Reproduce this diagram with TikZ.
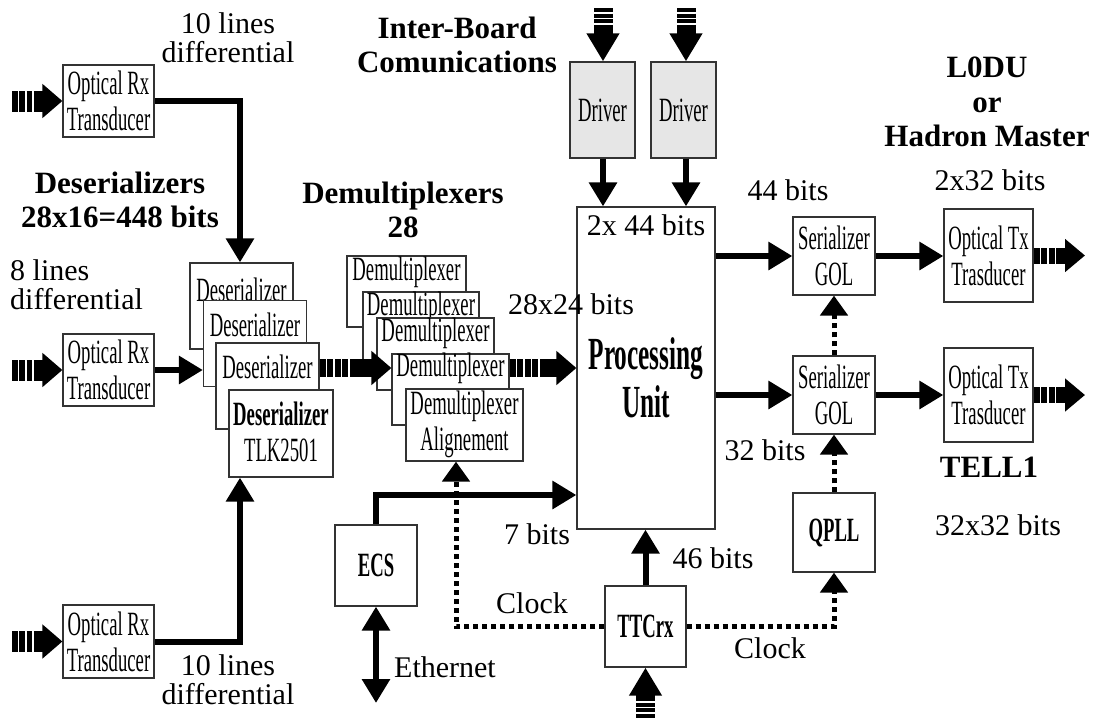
\documentclass[tikz,border=0pt]{standalone}
\usepackage{fontspec}
\setmainfont{Liberation Serif}
\newfontfamily\nar[FakeStretch=0.55]{Liberation Serif}
\usetikzlibrary{arrows.meta}
\definecolor{boxline}{HTML}{333333}
\definecolor{drvfill}{HTML}{E6E6E6}
\tikzset{
 box/.style={draw=boxline, line width=1.2pt, fill=white, inner sep=0pt},
 nt/.style={font=\nar\fontsize{34}{36}\selectfont, align=center, inner sep=0pt},
 ntb/.style={font=\nar\bfseries\fontsize{34}{36}\selectfont, align=center, inner sep=0pt},
 lbl/.style={font=\fontsize{30}{29}\selectfont, align=center, inner sep=0pt},
 blbl/.style={font=\bfseries\fontsize{31}{34.5}\selectfont, align=center, inner sep=0pt},
 conn/.style={line width=6pt, -{Triangle[length=24pt,width=27pt]}},
 bothconn/.style={line width=6pt, {Triangle[length=24pt,width=27pt]}-{Triangle[length=24pt,width=27pt]}},
 dots/.style={line width=5pt, dash pattern=on 5pt off 4pt, -{Triangle[length=20pt,width=27pt]}},
 instriped/.style={line width=21pt, dash pattern=on 5.5pt off 1.8pt on 5.5pt off 1.8pt on 5.5pt off 1.8pt on 400pt, -{Triangle[length=20pt,width=33pt]}},
 midstriped/.style={line width=18pt, dash pattern=on 6pt off 1.6pt on 6pt off 1.6pt on 6pt off 1.6pt on 6pt off 1.6pt on 400pt, -{Triangle[length=20pt,width=33pt]}},
 vstriped/.style={line width=19pt, dash pattern=on 4pt off 1.6pt on 4pt off 1.6pt on 4pt off 1.6pt on 400pt, -{Triangle[length=28pt,width=31pt]}},
 outstriped/.style={line width=16pt, dash pattern=on 6pt off 1.6pt on 6pt off 1.6pt on 6pt off 1.6pt on 400pt, -{Triangle[length=20pt,width=32pt]}},
}
\begin{document}
\begin{tikzpicture}[x=1pt,y=-1pt]
\useasboundingbox (0,0) rectangle (1096,718);

% Optical Rx transducers
\node[box, minimum width=91pt, minimum height=72pt] (rx1) at (108.5,101) {};
\node[nt] at (rx1.center) {Optical Rx\\Transducer};
\node[box, minimum width=91pt, minimum height=72pt] (rx2) at (108.5,370) {};
\node[nt] at (rx2.center) {Optical Rx\\Transducer};
\node[box, minimum width=91pt, minimum height=73pt] (rx3) at (108.5,641.5) {};
\node[nt] at (rx3.center) {Optical Rx\\Transducer};

% Deserializer stack
\node[box, minimum width=103pt, minimum height=86pt] (des1) at (241.5,306) {};
\node[nt] at (241.5,290) {Deserializer};
\node[box, minimum width=103pt, minimum height=86pt] (des2) at (255,343.5) {};
\node[nt] at (255,325) {Deserializer};
\node[box, minimum width=103pt, minimum height=86pt] (des3) at (267.5,386) {};
\node[nt] at (267.5,367) {Deserializer};
\node[box, minimum width=104pt, minimum height=87pt] (des4) at (281,433.5) {};
\node[nt] at (281,432) {\textbf{Deserializer}\\TLK2501};

% Demultiplexer stack
\node[box, minimum width=119pt, minimum height=71pt] (dm1) at (406.5,291.5) {};
\node[nt] at (406.5,272) {Demultiplexer};
\node[box, minimum width=116pt, minimum height=71pt] (dm2) at (421,327.5) {};
\node[nt] at (421,307) {Demultiplexer};
\node[box, minimum width=117pt, minimum height=72pt] (dm3) at (435.5,354) {};
\node[nt] at (435.5,333) {Demultiplexer};
\node[box, minimum width=117pt, minimum height=71pt] (dm4) at (450.5,389.5) {};
\node[nt] at (450.5,368) {Demultiplexer};
\node[box, minimum width=117pt, minimum height=72pt] (dm5) at (464.5,425) {};
\node[nt] at (464.5,424) {Demultiplexer\\Alignement};

% Processing unit
\node[box, minimum width=138pt, minimum height=322pt] (pu) at (646,368) {};
\node[lbl] at (646,225) {2x 44 bits};
\node[font=\nar\bfseries\fontsize{46}{48}\selectfont, align=center, inner sep=0pt] at (646,378) {Processing\\Unit};

% Drivers
\node[box, fill=drvfill, minimum width=65pt, minimum height=96pt] (drv1) at (602.5,110) {};
\node[nt] at (drv1.center) {Driver};
\node[box, fill=drvfill, minimum width=65pt, minimum height=96pt] (drv2) at (683.5,110) {};
\node[nt] at (drv2.center) {Driver};

% Serializers
\node[box, minimum width=82pt, minimum height=78pt] (ser1) at (834,256) {};
\node[nt] at (ser1.center) {Serializer\\GOL};
\node[box, minimum width=82pt, minimum height=78pt] (ser2) at (834,395) {};
\node[nt] at (ser2.center) {Serializer\\GOL};

% Optical Tx
\node[box, minimum width=89pt, minimum height=93pt] (tx1) at (988.5,255.5) {};
\node[nt] at (tx1.center) {Optical Tx\\Trasducer};
\node[box, minimum width=89pt, minimum height=94pt] (tx2) at (988.5,395) {};
\node[nt] at (tx2.center) {Optical Tx\\Trasducer};

% QPLL, ECS, TTCrx
\node[box, minimum width=82pt, minimum height=79pt] (qpll) at (834,532.5) {};
\node[ntb] at (qpll.center) {QPLL};
\node[box, minimum width=82pt, minimum height=81pt] (ecs) at (376,565.5) {};
\node[ntb] at (ecs.center) {ECS};
\node[box, minimum width=81pt, minimum height=81pt] (ttc) at (645.5,626.5) {};
\node[ntb] at (ttc.center) {TTCrx};

% helper coordinates
\coordinate (vx) at (240,0);
\coordinate (row) at (0,368);
\coordinate (s1) at (12,101);
\coordinate (s2) at (12,370);
\coordinate (s3) at (12,641.5);
\coordinate (t1) at (603,8);
\coordinate (t2) at (686,8);
\coordinate (o1) at (1085,255.5);
\coordinate (o2) at (1085,395);
\coordinate (b1) at (645.5,718);
\coordinate (ecsy) at (0,495);
\coordinate (eth) at (376,703);
\coordinate (clkL) at (456,0);

% connectors
\draw[instriped] (s1) -- (rx1.west);
\draw[instriped] (s2) -- (rx2.west);
\draw[instriped] (s3) -- (rx3.west);
\draw[conn] (rx1.east) -| (vx |- des1.north);
\draw[conn] (rx3.east) -| (vx |- des4.south);
\draw[conn] (rx2.east) -- (rx2.east -| des2.west);
\draw[midstriped] (des3.east |- row) -- (dm4.west |- row);
\draw[midstriped] (dm4.east |- row) -- (pu.west |- row);
\draw[vstriped] (t1) -- (t1 |- drv1.north);
\draw[vstriped] (t2) -- (t2 |- drv2.north);
\draw[conn] (t1 |- drv1.south) -- (t1 |- pu.north);
\draw[conn] (t2 |- drv2.south) -- (t2 |- pu.north);
\draw[conn] (pu.east |- ser1.west) -- (ser1.west);
\draw[conn] (pu.east |- ser2.west) -- (ser2.west);
\draw[conn] (ser1.east) -- (ser1.east -| tx1.west);
\draw[conn] (ser2.east) -- (ser2.east -| tx2.west);
\draw[outstriped] (tx1.east) -- (o1);
\draw[outstriped] (tx2.east) -- (o2);
\draw[dots] (ser2.north) -- (ser1.south);
\draw[dots] (qpll.north) -- (ser2.south);
\draw[conn] (ecs.north) |- (pu.west |- ecsy);
\draw[bothconn] (eth) -- (ecs.south);
\draw[conn] (ttc.north) -- (ttc.north |- pu.south);
\draw[vstriped] (b1) -- (ttc.south);
\draw[dots] (ttc.west) -| (clkL |- dm5.south);
\draw[dots] (ttc.east) -| (qpll.south);

% labels
\node[lbl] at (228,38) {10 lines\\differential};
\node[lbl] at (228,680) {10 lines\\differential};
\node[lbl, align=left, anchor=west] at (10,285) {8 lines\\differential};
\node[blbl] at (120,200) {Deserializers\\28x16=448 bits};
\node[blbl] at (403,210) {Demultiplexers\\28};
\node[blbl] at (457,45) {Inter-Board\\Comunications};
\node[blbl] at (987,102) {L0DU\\or\\Hadron Master};
\node[blbl] at (989,467) {TELL1};
\node[lbl] at (571,304) {28x24 bits};
\node[lbl] at (788,190) {44 bits};
\node[lbl] at (990,180) {2x32 bits};
\node[lbl] at (765,450) {32 bits};
\node[lbl] at (998,525) {32x32 bits};
\node[lbl] at (537,534) {7 bits};
\node[lbl] at (713,558) {46 bits};
\node[lbl] at (532,603) {Clock};
\node[lbl] at (770,648) {Clock};
\node[lbl] at (445,667) {Ethernet};
\end{tikzpicture}
\end{document}
